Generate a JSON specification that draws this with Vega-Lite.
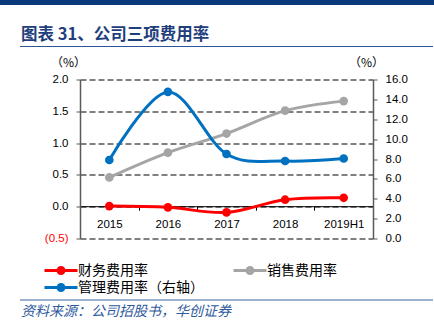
{
  "$schema": "https://vega.github.io/schema/vega-lite/v6.json",
  "padding": 0,
  "background": "white",
  "config": {"view": {"stroke": null}, "font": "Liberation Sans"},
  "datasets": {
    "rates": [
      {"year": "2015", "series": "财务费用率", "value": 0.01},
      {"year": "2016", "series": "财务费用率", "value": -0.01},
      {"year": "2017", "series": "财务费用率", "value": -0.09},
      {"year": "2018", "series": "财务费用率", "value": 0.11},
      {"year": "2019H1", "series": "财务费用率", "value": 0.14},
      {"year": "2015", "series": "销售费用率", "value": 0.46},
      {"year": "2016", "series": "销售费用率", "value": 0.85},
      {"year": "2017", "series": "销售费用率", "value": 1.15},
      {"year": "2018", "series": "销售费用率", "value": 1.51},
      {"year": "2019H1", "series": "销售费用率", "value": 1.66},
      {"year": "2015", "series": "管理费用率（右轴）", "value": 7.9},
      {"year": "2016", "series": "管理费用率（右轴）", "value": 14.75},
      {"year": "2017", "series": "管理费用率（右轴）", "value": 8.5},
      {"year": "2018", "series": "管理费用率（右轴）", "value": 7.8},
      {"year": "2019H1", "series": "管理费用率（右轴）", "value": 8.05}
    ]
  },
  "spacing": 21,
  "resolve": {"scale": {"color": "independent"}, "legend": {"color": "independent"}},
  "vconcat": [
    {
      "width": 434, "height": 5,
      "view": {"fill": "#0B3A7C", "stroke": null},
      "data": {"values": [{}]},
      "mark": {"type": "text", "fontSize": 0},
      "encoding": {}
    },
    {
      "spacing": -6,
      "resolve": {"scale": {"color": "independent"}, "legend": {"color": "independent"}},
      "hconcat": [
        {
          "width": 0, "height": 0,
          "data": {"values": [{}]},
          "mark": {"type": "text", "fontSize": 0},
          "encoding": {}
        },
        {
          "spacing": 9.5,
          "center": true,
          "resolve": {"scale": {"color": "independent"}, "legend": {"color": "independent"}},
          "vconcat": [
            {
              "width": 413, "height": 1,
              "view": {"fill": "#2B5597", "stroke": null},
              "title": {"text": "图表 31、公司三项费用率", "anchor": "start", "font": "Noto Sans CJK SC", "fontSize": 16.5, "fontWeight": "bold", "color": "#1F3E7C", "baseline": "alphabetic", "offset": -10, "dx": 1},
              "data": {"values": [{}]},
              "mark": {"type": "text", "fontSize": 0},
              "encoding": {}
            },
            {
              "spacing": 61,
              "center": true,
              "bounds": "flush",
              "resolve": {"scale": {"color": "independent"}, "legend": {"color": "independent"}},
              "vconcat": [
                {
                  "width": 293, "height": 159,
                  "data": {"name": "rates"},
                  "layer": [
                    {
                      "transform": [{"filter": "datum.series !== '管理费用率（右轴）'"}],
                      "encoding": {
                        "x": {"field": "year", "type": "nominal", "sort": ["2015", "2016", "2017", "2018", "2019H1"],
                          "scale": {"type": "band", "paddingInner": 0, "paddingOuter": 0},
                          "axis": {"title": null, "orient": "bottom", "offset": -32.3, "tickBand": "extent", "tickSize": 4, "tickColor": "#000", "domainColor": "#000", "domainWidth": 1, "labelFont": "Liberation Sans", "labelFontSize": 11.5, "labelColor": "#000", "labelPadding": 8.5, "labelAngle": 0, "grid": false}},
                        "y": {"field": "value", "type": "quantitative",
                          "scale": {"domain": [-0.5, 2], "nice": false, "zero": false},
                          "axis": {"orient": "left", "values": [-0.5, 0, 0.5, 1, 1.5, 2],
                            "labelExpr": "datum.value < 0 ? '(' + format(-datum.value, '.1f') + ')' : format(datum.value, '.1f')",
                            "labelColor": {"condition": {"test": "datum.value < 0", "value": "#FF0000"}, "value": "#000"},
                            "grid": true, "gridColor": "#000", "gridDash": [6, 3], "gridWidth": 1,
                            "tickSize": 4, "tickColor": "#595959", "domainColor": "#595959", "domainWidth": 1.5,
                            "labelFont": "Liberation Sans", "labelFontSize": 11.5, "labelPadding": 8,
                            "title": "（%）", "titleAngle": 0, "titleX": -12, "titleY": -17, "titleAlign": "center", "titleBaseline": "middle",
                            "titleFont": "Noto Sans CJK SC", "titleFontSize": 12, "titleFontWeight": "normal", "titleColor": "#000"}},
                        "color": {"field": "series", "type": "nominal",
                          "scale": {"domain": ["财务费用率", "销售费用率", "管理费用率（右轴）"], "range": ["#FF0000", "#A5A5A5", "#0070C0"]},
                          "legend": {"orient": "none", "direction": "horizontal", "legendX": -26, "legendY": 184, "columns": 2, "columnPadding": 29, "rowPadding": 3, "padding": 0,
                            "title": null,
                            "symbolType": "M-3,-0.27L3,-0.27L3,0.27L-3,0.27Z M0.82,0A0.82,0.82,0,1,1,-0.82,0A0.82,0.82,0,1,1,0.82,0Z",
                            "symbolSize": 121, "symbolStrokeWidth": 0, "labelOffset": 10,
                            "labelFont": "Noto Sans CJK SC", "labelFontSize": 14, "labelColor": "#000",
                            "encode": {"symbols": {"update": {"fill": {"scale": "color", "field": "value"}, "stroke": {"value": "transparent"}, "strokeWidth": {"value": 0}, "opacity": {"value": 1}}}}}}
                      },
                      "layer": [
                        {"mark": {"type": "line", "interpolate": "cardinal", "strokeWidth": 3}},
                        {"mark": {"type": "point", "filled": true, "size": 75, "opacity": 1}}
                      ]
                    },
                    {
                      "transform": [{"filter": "datum.series === '管理费用率（右轴）'"}],
                      "encoding": {
                        "x": {"field": "year", "type": "nominal", "sort": ["2015", "2016", "2017", "2018", "2019H1"]},
                        "y": {"field": "value", "type": "quantitative",
                          "scale": {"domain": [0, 16], "nice": false},
                          "axis": {"orient": "right", "values": [0, 2, 4, 6, 8, 10, 12, 14, 16], "format": ".1f",
                            "grid": false, "tickSize": 4, "tickColor": "#595959", "domainColor": "#595959", "domainWidth": 1.5,
                            "labelFont": "Liberation Sans", "labelFontSize": 11.5, "labelColor": "#000", "labelPadding": 8,
                            "title": "（%）", "titleAngle": 0, "titleX": -7, "titleY": -17, "titleAlign": "center", "titleBaseline": "middle",
                            "titleFont": "Noto Sans CJK SC", "titleFontSize": 12, "titleFontWeight": "normal", "titleColor": "#000"}},
                        "color": {"field": "series", "type": "nominal",
                          "scale": {"domain": ["财务费用率", "销售费用率", "管理费用率（右轴）"], "range": ["#FF0000", "#A5A5A5", "#0070C0"]}}
                      },
                      "layer": [
                        {"mark": {"type": "line", "interpolate": "cardinal", "strokeWidth": 3}},
                        {"mark": {"type": "point", "filled": true, "size": 75, "opacity": 1}}
                      ]
                    }
                  ],
                  "resolve": {"scale": {"y": "independent"}, "axis": {"y": "independent"}}
                },
                {
                  "width": 413, "height": 1,
                  "view": {"fill": "#3A64A0", "stroke": null},
                  "title": {"text": "资料来源：公司招股书，华创证券", "orient": "bottom", "anchor": "start", "font": "Noto Sans CJK SC", "fontSize": 14, "fontStyle": "italic", "fontWeight": "normal", "color": "#2F5A9C", "baseline": "top", "offset": 4, "dx": 1},
                  "data": {"values": [{}]},
                  "mark": {"type": "text", "fontSize": 0},
                  "encoding": {}
                }
              ]
            }
          ]
        }
      ]
    }
  ]
}
